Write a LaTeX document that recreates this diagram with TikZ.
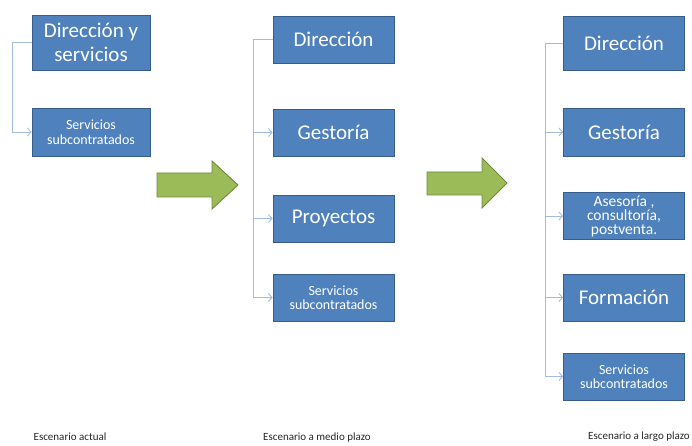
\documentclass[tikz,border=0pt]{standalone}
\usepackage{fontspec}
\setmainfont{Carlito}
\usetikzlibrary{arrows.meta,calc}
\definecolor{boxblue}{HTML}{4F81BD}
\definecolor{boxedge}{HTML}{385D8A}
\definecolor{connblue}{HTML}{A3BCDB}
\definecolor{arrgreen}{HTML}{9BBB59}
\definecolor{arredge}{HTML}{71893F}
\tikzset{
  box/.style={draw=boxedge, line width=0.9pt, fill=boxblue, text=white, align=center, inner sep=0pt, minimum width=121pt},
  bigtxt/.style={font=\fontsize{21}{24}\selectfont},
  smalltxt/.style={font=\fontsize{14}{14.5}\selectfont},
  conn/.style={draw=connblue, line width=0.9pt, -{Straight Barb[length=3.5pt,width=8pt]}},
  bigarrow/.style={fill=arrgreen, draw=arredge, line width=0.9pt, line join=miter},
  lab/.style={font=\fontsize{11}{13}\selectfont, text=black!85, inner sep=0pt}
}
\begin{document}
\begin{tikzpicture}[x=1pt,y=-1pt]
\useasboundingbox (0,0) rectangle (692,446);
% column 1
\node[box, bigtxt, minimum width=118pt, minimum height=55pt] (a1) at (91,42.5) {Dirección y\\servicios};
\node[box, smalltxt, minimum width=118pt, minimum height=48pt] (a2) at (91,132) {Servicios\\subcontratados};
\coordinate (ca) at (12,0);
\draw[conn] (a1.west) -- (a1.west -| ca) -- (a2.west -| ca) -- (a2.west);
% column 2
\node[box, bigtxt, minimum height=47pt] (b1) at (333.5,39.5) {Dirección};
\node[box, bigtxt, minimum height=47pt] (b2) at (333.5,132.5) {Gestoría};
\node[box, bigtxt, minimum height=47pt] (b3) at (333.5,218.5) {Proyectos};
\node[box, smalltxt, minimum height=47pt] (b4) at (333.5,297.5) {Servicios\\subcontratados};
\coordinate (cb) at (253,0);
\draw[conn] (b1.west) -- (b1.west -| cb) -- (b4.west -| cb) -- (b4.west);
\draw[conn] (b2.west -| cb) -- (b2.west);
\draw[conn] (b3.west -| cb) -- (b3.west);
% column 3
\node[box, bigtxt, minimum height=54pt] (c1) at (624,43) {Dirección};
\node[box, bigtxt, minimum height=48pt] (c2) at (624,132) {Gestoría};
\node[box, font=\fontsize{15.5}{14}\selectfont, minimum height=47pt] (c3) at (624,216) {Asesoría ,\\consultoría,\\postventa.};
\node[box, bigtxt, minimum height=47pt] (c4) at (624,297.5) {Formación};
\node[box, smalltxt, minimum height=47pt] (c5) at (624,376.5) {Servicios\\subcontratados};
\coordinate (cc) at (545,0);
\draw[conn] (c1.west) -- (c1.west -| cc) -- (c5.west -| cc) -- (c5.west);
\draw[conn] (c2.west -| cc) -- (c2.west);
\draw[conn] (c3.west -| cc) -- (c3.west);
\draw[conn] (c4.west -| cc) -- (c4.west);
% green arrows
\draw[bigarrow] (157,173) -- (212,173) -- (212,161) -- (238,185) -- (212,209) -- (212,197) -- (157,197) -- cycle;
\draw[bigarrow] (427,172) -- (482,172) -- (482,158) -- (507,183) -- (482,208) -- (482,195) -- (427,195) -- cycle;
% labels
\node[lab] (l1) at (70,437) {Escenario actual};
\node[lab] (l2) at (317,438) {Escenario a medio plazo};
\node[lab] (l3) at (639,437) {Escenario a largo plazo};
\end{tikzpicture}
\end{document}
